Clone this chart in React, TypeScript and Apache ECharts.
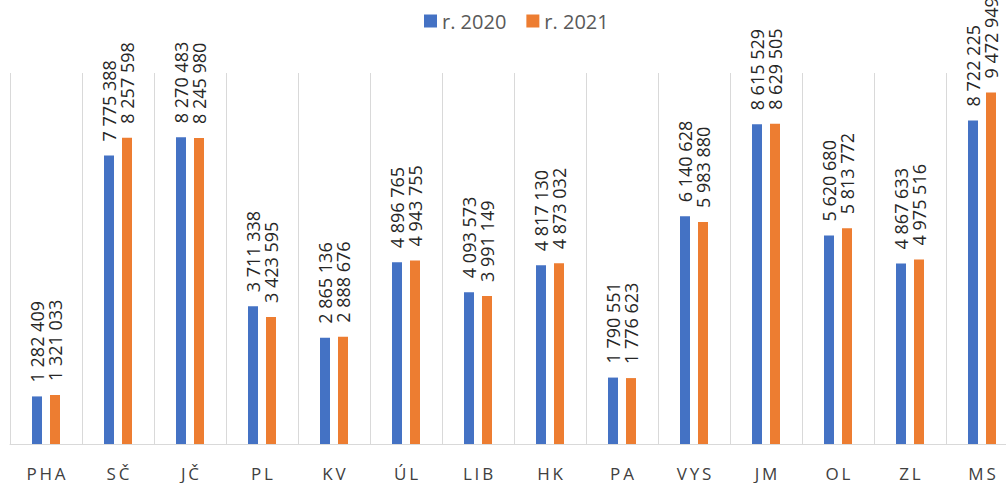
import React, { useEffect, useRef } from "react";
import * as echarts from "echarts";

const categories = ["PHA", "SČ", "JČ", "PL", "KV", "ÚL", "LIB", "HK", "PA", "VYS", "JM", "OL", "ZL", "MS"];
const values2020 = [1282409, 7775388, 8270483, 3711338, 2865136, 4896765, 4093573, 4817130, 1790551, 6140628, 8615529, 5620680, 4867633, 8722225];
const values2021 = [1321033, 8257598, 8245980, 3423595, 2888676, 4943755, 3991149, 4873032, 1776623, 5983880, 8629505, 5813772, 4975516, 9472949];
const seriesNames = ["r. 2020", "r. 2021"];

const FONT = "'Open Sans', 'Noto Sans', sans-serif";

const fmt = (v: number) => String(v).replace(/\B(?=(\d{3})+(?!\d))/g, " ");
const spaced = (s: string) => Array.from(s).join("\u2009");

export default function App() {
  const ref = useRef<HTMLDivElement>(null);
  useEffect(() => {
    if (!ref.current) return;
    const chart = echarts.init(ref.current, undefined, { renderer: "svg" });
    const label = {
      show: true,
      position: "top" as const,
      rotate: 90,
      align: "left" as const,
      verticalAlign: "middle" as const,
      distance: 14,
      fontFamily: FONT,
      fontSize: 18,
      color: "#262626",
      formatter: (p: any) => fmt(p.value),
    };
    chart.setOption({
      animation: false,
      backgroundColor: "#ffffff",
      legend: {
        top: 6,
        left: 419,
        itemWidth: 13,
        itemHeight: 13,
        itemGap: 20,
        icon: "rect",
        textStyle: { fontFamily: FONT, fontSize: 20, color: "#595959" },
        data: seriesNames,
      },
      grid: { left: 10, top: 73, width: 1008, height: 371, containLabel: false, outerBoundsMode: "none" },
      xAxis: {
        type: "category",
        data: categories,
        axisLine: { show: true, lineStyle: { color: "#D9D9D9", width: 1 } },
        axisTick: { show: false },
        splitLine: { show: true, lineStyle: { color: "#D9D9D9", width: 1 } },
        axisLabel: {
          margin: 21,
          fontFamily: FONT,
          fontSize: 17,
          lineHeight: 16,
          color: "#404040",
          interval: 0,
          formatter: (v: string) => spaced(v),
        },
      },
      yAxis: {
        type: "value",
        min: 0,
        max: 10000000,
        show: false,
        splitLine: { show: false },
      },
      series: [
        {
          name: seriesNames[0],
          type: "bar",
          data: values2020,
          barWidth: 10,
          barGap: "80%",
          itemStyle: { color: "#4472C4" },
          label,
        },
        {
          name: seriesNames[1],
          type: "bar",
          data: values2021,
          barWidth: 10,
          barGap: "80%",
          itemStyle: { color: "#ED7D31" },
          label,
        },
      ],
    });
    return () => chart.dispose();
  }, []);
  return <div ref={ref} style={{ position: "absolute", left: 0, top: 0, width: 1006, height: 483 }} />;
}
